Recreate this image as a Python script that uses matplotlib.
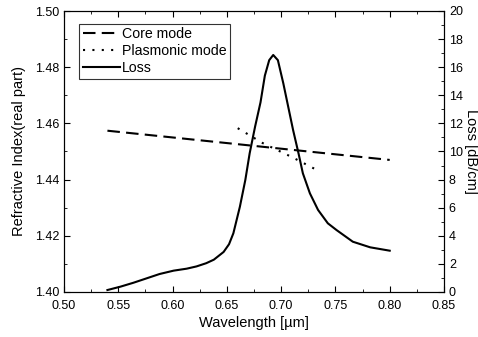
import matplotlib
matplotlib.use("Agg")
import matplotlib.pyplot as plt
from matplotlib.ticker import MultipleLocator

plt.rcParams['font.family'] = ['Liberation Sans', 'DejaVu Sans']

# core mode (real part of index)
core_wl = [0.54, 0.60, 0.65, 0.70, 0.75, 0.80]
core_n = [1.4574, 1.4550, 1.4530, 1.4510, 1.4490, 1.4470]

# plasmonic mode
plas_wl = [0.660, 0.683, 0.710, 0.733]
plas_n = [1.4583, 1.4530, 1.4480, 1.4434]

# loss curve
loss_wl = [0.540, 0.552, 0.564, 0.576, 0.588, 0.601, 0.613, 0.622, 0.631,
           0.638, 0.647, 0.652, 0.656, 0.662, 0.667, 0.671, 0.676, 0.681,
           0.685, 0.689, 0.6927, 0.697, 0.702, 0.7065, 0.711, 0.716, 0.720,
           0.7265, 0.734, 0.743, 0.751, 0.766, 0.782, 0.800]
loss_db = [0.14, 0.38, 0.66, 0.97, 1.28, 1.52, 1.66, 1.82, 2.05,
           2.30, 2.85, 3.40, 4.18, 6.07, 7.97, 9.87, 11.77, 13.5,
           15.4, 16.5, 16.87, 16.5, 14.85, 13.19, 11.53, 9.87, 8.45,
           7.02, 5.84, 4.89, 4.41, 3.58, 3.18, 2.94]

fig = plt.figure(figsize=(4.78, 3.37), dpi=100)
ax = fig.add_axes([64/478, 45/337, 380/478, 281/337])
ax2 = ax.twinx()

l1, = ax.plot(core_wl, core_n, color='black', lw=1.5, dashes=(6, 3), label='Core mode')
l2, = ax.plot(plas_wl, plas_n, color='black', lw=1.5, dashes=(1, 3.5), label='Plasmonic mode')
l3, = ax2.plot(loss_wl, loss_db, color='black', lw=1.5, label='Loss')

ax.set_xlim(0.50, 0.85)
ax.set_ylim(1.40, 1.50)
ax2.set_ylim(0, 20)

ax.xaxis.set_major_locator(MultipleLocator(0.05))
ax.xaxis.set_minor_locator(MultipleLocator(0.025))
ax.yaxis.set_major_locator(MultipleLocator(0.02))
ax.yaxis.set_minor_locator(MultipleLocator(0.01))
ax2.yaxis.set_major_locator(MultipleLocator(2))
ax2.yaxis.set_minor_locator(MultipleLocator(1))
ax.xaxis.set_major_formatter(plt.FormatStrFormatter('%.2f'))
ax.yaxis.set_major_formatter(plt.FormatStrFormatter('%.2f'))

ax.tick_params(which='both', direction='in', top=True, right=False, labelsize=9)
ax.tick_params(which='major', length=4)
ax.tick_params(which='minor', length=2)
ax.tick_params(axis='x', pad=5.5)
ax2.tick_params(which='both', direction='in', labelsize=9)
ax2.tick_params(which='major', length=4)
ax2.tick_params(which='minor', length=2)

ax.set_xlabel('Wavelength [µm]', fontsize=10.5, labelpad=3)
ax.set_ylabel('Refractive Index(real part)', fontsize=10.5, labelpad=6)
ax2.set_ylabel('Loss [dB/cm]', fontsize=10.5, rotation=-90, labelpad=11)

leg = ax.legend(handles=[l1, l2, l3], loc='upper left', bbox_to_anchor=(0.04, 0.955),
                fontsize=10.2, frameon=True, fancybox=False, edgecolor='black',
                handlelength=2.6, handletextpad=0.15, borderpad=0.25, labelspacing=0.22,
                borderaxespad=0)
leg.get_frame().set_linewidth(0.8)

fig.savefig('out.png', dpi=100)
